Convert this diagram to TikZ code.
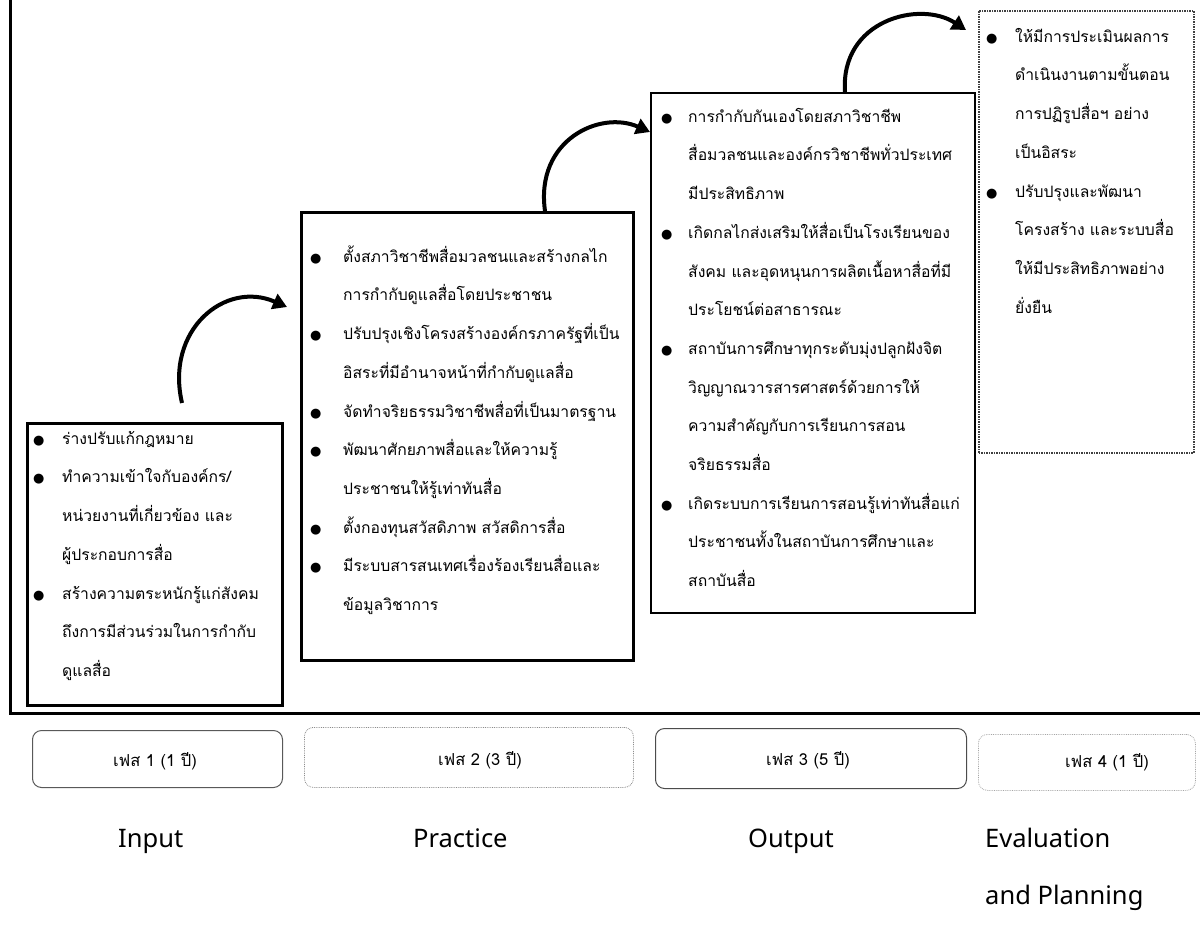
\documentclass[tikz,border=0pt]{standalone}
\usepackage{fontspec}
\setmainfont{Noto Sans}
\newfontfamily\thaifont[Script=Thai]{Loma}
\newfontfamily\symfont{DejaVu Sans}
\usetikzlibrary{arrows.meta}
\newlength\bulw
\newcommand\bl[1]{\par\noindent\makebox[\bulw][l]{\symfont\fontsize{13}{13}\selectfont ●}#1}
\newcommand\cl[1]{\par\noindent\hspace*{\bulw}#1}
\tikzset{
  frameline/.style={line width=3pt},
  bigbox/.style={draw, anchor=north west, inner sep=0pt},
  txt/.style={anchor=north west, inner sep=0pt, align=left, font=\thaifont\fontsize{15.7}{38.7}\selectfont},
  phasebox/.style={draw, rounded corners=9pt, anchor=north west, inner sep=0pt},
  ptxt/.style={font=\thaifont\fontsize{16.5}{18}\selectfont},
  lbl/.style={font=\fontsize{25.5}{30}\selectfont, anchor=base west, inner sep=0pt},
  arr/.style={line width=4pt, -{Triangle[length=14pt,width=16pt]}},
}
\begin{document}
\begin{tikzpicture}[x=1pt,y=-1pt]
\useasboundingbox (0,0) rectangle (1200,938);
\fill[white] (0,0) rectangle (1200,938);

% frame
\coordinate (ftop) at (10,0);
\coordinate (fcorner) at (10,713);
\coordinate (fright) at (1200,713);
\draw[frameline] (ftop) -- (fcorner) -- (fright);

% boxes
\node[bigbox, line width=3pt, minimum width=255pt, minimum height=282pt] (b1) at (26,422) {};
\node[bigbox, line width=2.5pt, minimum width=332pt, minimum height=448pt] (b2) at (300,211) {};
\node[bigbox, line width=2pt, minimum width=324pt, minimum height=520pt] (b3) at (650,92) {};
\node[bigbox, line width=1.5pt, densely dotted, draw=black!75, minimum width=215pt, minimum height=442pt] (b4) at (978,10) {};

% texts
\node[txt, text width=244pt] (t1) at (33,405.3) {\setlength\bulw{29pt}%
\bl{ร่างปรับแก้กฎหมาย}
\bl{ทำความเข้าใจกับองค์กร/}
\cl{หน่วยงานที่เกี่ยวข้อง และ}
\cl{ผู้ประกอบการสื่อ}
\bl{สร้างความตระหนักรู้แก่สังคม}
\cl{ถึงการมีส่วนร่วมในการกำกับ}
\cl{ดูแลสื่อ}};

\node[txt, text width=318pt] (t2) at (310,223.3) {\setlength\bulw{33pt}%
\bl{ตั้งสภาวิชาชีพสื่อมวลชนและสร้างกลไก}
\cl{การกำกับดูแลสื่อโดยประชาชน}
\bl{ปรับปรุงเชิงโครงสร้างองค์กรภาครัฐที่เป็น}
\cl{อิสระที่มีอำนาจหน้าที่กำกับดูแลสื่อ}
\bl{จัดทำจริยธรรมวิชาชีพสื่อที่เป็นมาตรฐาน}
\bl{พัฒนาศักยภาพสื่อและให้ความรู้}
\cl{ประชาชนให้รู้เท่าทันสื่อ}
\bl{ตั้งกองทุนสวัสดิภาพ สวัสดิการสื่อ}
\bl{มีระบบสารสนเทศเรื่องร้องเรียนสื่อและ}
\cl{ข้อมูลวิชาการ}};

\node[txt, text width=310pt] (t3) at (661,83.3) {\setlength\bulw{27pt}%
\bl{การกำกับกันเองโดยสภาวิชาชีพ}
\cl{สื่อมวลชนและองค์กรวิชาชีพทั่วประเทศ}
\cl{มีประสิทธิภาพ}
\bl{เกิดกลไกส่งเสริมให้สื่อเป็นโรงเรียนของ}
\cl{สังคม และอุดหนุนการผลิตเนื้อหาสื่อที่มี}
\cl{ประโยชน์ต่อสาธารณะ}
\bl{สถาบันการศึกษาทุกระดับมุ่งปลูกฝังจิต}
\cl{วิญญาณวารสารศาสตร์ด้วยการให้}
\cl{ความสำคัญกับการเรียนการสอน}
\cl{จริยธรรมสื่อ}
\bl{เกิดระบบการเรียนการสอนรู้เท่าทันสื่อแก่}
\cl{ประชาชนทั้งในสถาบันการศึกษาและ}
\cl{สถาบันสื่อ}};

\node[txt, text width=205pt] (t4) at (986,3.3) {\setlength\bulw{29pt}%
\bl{ให้มีการประเมินผลการ}
\cl{ดำเนินงานตามขั้นตอน}
\cl{การปฏิรูปสื่อฯ อย่าง}
\cl{เป็นอิสระ}
\bl{ปรับปรุงและพัฒนา}
\cl{โครงสร้าง และระบบสื่อ}
\cl{ให้มีประสิทธิภาพอย่าง}
\cl{ยั่งยืน}};

% arrows
\coordinate (a1s) at (182,403);
\coordinate (a1e) at (287,307);
\draw[arr] (a1s) .. controls (165,330) and (225,280) .. (a1e);
\coordinate (a2s) at (545,211);
\coordinate (a2e) at (650,132);
\draw[arr] (a2s) .. controls (535,140) and (600,110) .. (a2e);
\coordinate (a3s) at (845,92);
\coordinate (a3e) at (966,30);
\draw[arr] (a3s) .. controls (840,20) and (920,0) .. (a3e);

% phase boxes
\node[phasebox, draw=black!65, line width=1pt, minimum width=250pt, minimum height=57pt] (p1) at (32,730) {};
\node[phasebox, draw=black!45, densely dotted, line width=0.8pt, minimum width=329pt, minimum height=60pt] (p2) at (304,727) {};
\node[phasebox, draw=black!70, line width=1pt, minimum width=311pt, minimum height=60pt] (p3) at (655,728) {};
\node[phasebox, draw=black!35, densely dotted, line width=0.8pt, minimum width=217pt, minimum height=56pt] (p4) at (978,734) {};
\node[ptxt] (pt1) at (155,761) {เฟส 1 (1 ปี)};
\node[ptxt] (pt2) at (480,760) {เฟส 2 (3 ปี)};
\node[ptxt] (pt3) at (808,760) {เฟส 3 (5 ปี)};
\node[ptxt] (pt4) at (1107,762) {เฟส 4 (1 ปี)};

% bottom labels
\node[lbl] (l1) at (118,847) {Input};
\node[lbl] (l2) at (413,847) {Practice};
\node[lbl] (l3) at (748,847) {Output};
\node[lbl] (l4) at (985,847) {Evaluation};
\node[lbl] (l5) at (985,904) {and Planning};
\end{tikzpicture}
\end{document}
